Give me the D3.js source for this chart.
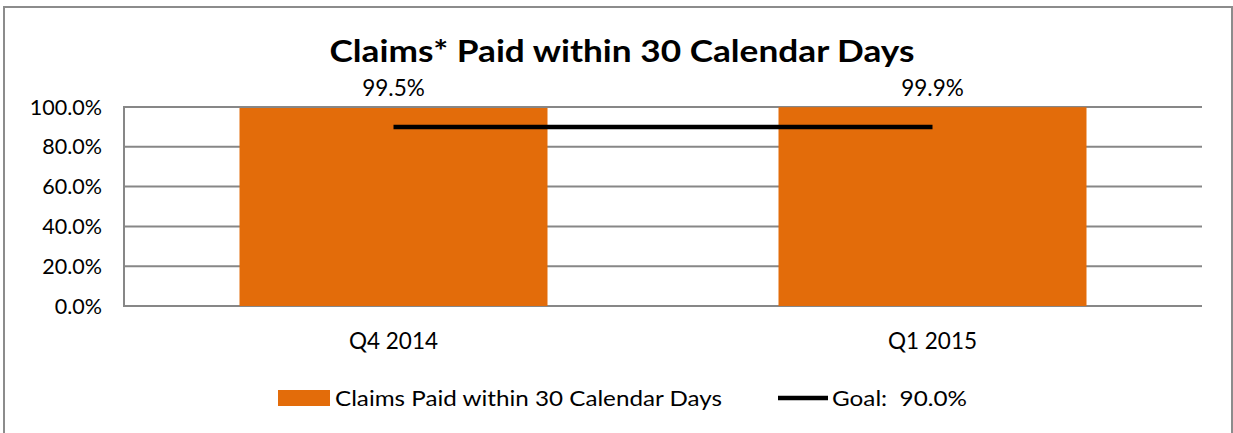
<!DOCTYPE html>
<html>
<head>
<meta charset="utf-8">
<script src="https://cdn.jsdelivr.net/npm/d3@7"></script>
<style>
  html, body { margin: 0; padding: 0; background: #fff; }
  svg { display: block; }
  text { font-family: Lato, "Open Sans", sans-serif; fill: #000; }
</style>
</head>
<body>
<svg id="chart" width="1233" height="433"></svg>
<script>
// ---- data ----
const categories = ["Q4 2014", "Q1 2015"];
const claimsPaid = [0.995, 0.999];
const goalValues = [0.90, 0.90];
const yTicks = [0, 0.2, 0.4, 0.6, 0.8, 1.0];
const titleText = "Claims* Paid within 30 Calendar Days";
const seriesName = "Claims Paid within 30 Calendar Days";
const goalName = "Goal:  90.0%";

// ---- layout ----
const plot = { left: 124, right: 1202, top: 107, bottom: 306 };
const orange = "#E36C0A";
const gridColor = "#878787";

const svg = d3.select("#chart");

// outer chart border
svg.append("rect")
  .attr("x", 4).attr("y", 7)
  .attr("width", 1228).attr("height", 440)
  .attr("fill", "#fff")
  .attr("stroke", "#8c8c8c").attr("stroke-width", 2);

const x = d3.scaleBand()
  .domain(categories)
  .range([plot.left, plot.right])
  .paddingInner(0.75 / 1.75)
  .paddingOuter(0.75 / 1.75 / 2);

const y = d3.scaleLinear().domain([0, 1]).range([plot.bottom, plot.top]);

// gridlines
svg.append("g").selectAll("line")
  .data(yTicks)
  .join("line")
  .attr("x1", plot.left).attr("x2", plot.right)
  .attr("y1", d => y(d)).attr("y2", d => y(d))
  .attr("stroke", gridColor).attr("stroke-width", 2);

// y axis line
svg.append("line")
  .attr("x1", plot.left).attr("x2", plot.left)
  .attr("y1", y(0) + 1).attr("y2", y(1) - 1)
  .attr("stroke", gridColor).attr("stroke-width", 2);

// y tick labels
svg.append("g").selectAll("text")
  .data(yTicks)
  .join("text")
  .attr("x", 102)
  .attr("y", d => y(d))
  .attr("dy", "0.35em")
  .attr("text-anchor", "end")
  .style("font-size", "21.5px")
  .text(d => d3.format(".1%")(d));

// bars
svg.append("g").selectAll("rect")
  .data(categories)
  .join("rect")
  .attr("x", d => x(d))
  .attr("width", x.bandwidth())
  .attr("y", (d, i) => y(claimsPaid[i]))
  .attr("height", (d, i) => y(0) - y(claimsPaid[i]))
  .attr("fill", orange);

// data labels
svg.append("g").selectAll("text")
  .data(categories)
  .join("text")
  .attr("x", d => x(d) + x.bandwidth() / 2)
  .attr("y", 96)
  .attr("text-anchor", "middle")
  .style("font-size", "22.5px")
  .text((d, i) => d3.format(".1%")(claimsPaid[i]));

// goal line
const line = d3.line()
  .x((d, i) => x(categories[i]) + x.bandwidth() / 2)
  .y(d => y(d));
svg.append("path")
  .attr("d", line(goalValues))
  .attr("fill", "none")
  .attr("stroke", "#000")
  .attr("stroke-width", 4.5);

// category labels
svg.append("g").selectAll("text")
  .data(categories)
  .join("text")
  .attr("x", d => x(d) + x.bandwidth() / 2)
  .attr("y", 341)
  .attr("dy", "0.35em")
  .attr("text-anchor", "middle")
  .style("font-size", "22.5px")
  .text(d => d);

// title
svg.append("text")
  .attr("x", 622).attr("y", 62)
  .attr("text-anchor", "middle")
  .style("font-size", "30px")
  .style("font-weight", "bold")
  .attr("textLength", 585)
  .attr("lengthAdjust", "spacingAndGlyphs")
  .text(titleText);

// legend
const lg = svg.append("g");
lg.append("rect")
  .attr("x", 278).attr("y", 390)
  .attr("width", 52).attr("height", 16)
  .attr("fill", orange);
lg.append("text")
  .attr("x", 335).attr("y", 398).attr("dy", "0.35em")
  .style("font-size", "21.5px")
  .attr("textLength", 387)
  .attr("lengthAdjust", "spacingAndGlyphs")
  .text(seriesName);
lg.append("line")
  .attr("x1", 778).attr("x2", 828)
  .attr("y1", 398).attr("y2", 398)
  .attr("stroke", "#000").attr("stroke-width", 4.5);
lg.append("text")
  .attr("x", 832).attr("y", 398).attr("dy", "0.35em")
  .style("font-size", "21.5px")
  .style("white-space", "pre")
  .attr("textLength", 135)
  .attr("lengthAdjust", "spacingAndGlyphs")
  .text(goalName);
</script>
</body>
</html>
